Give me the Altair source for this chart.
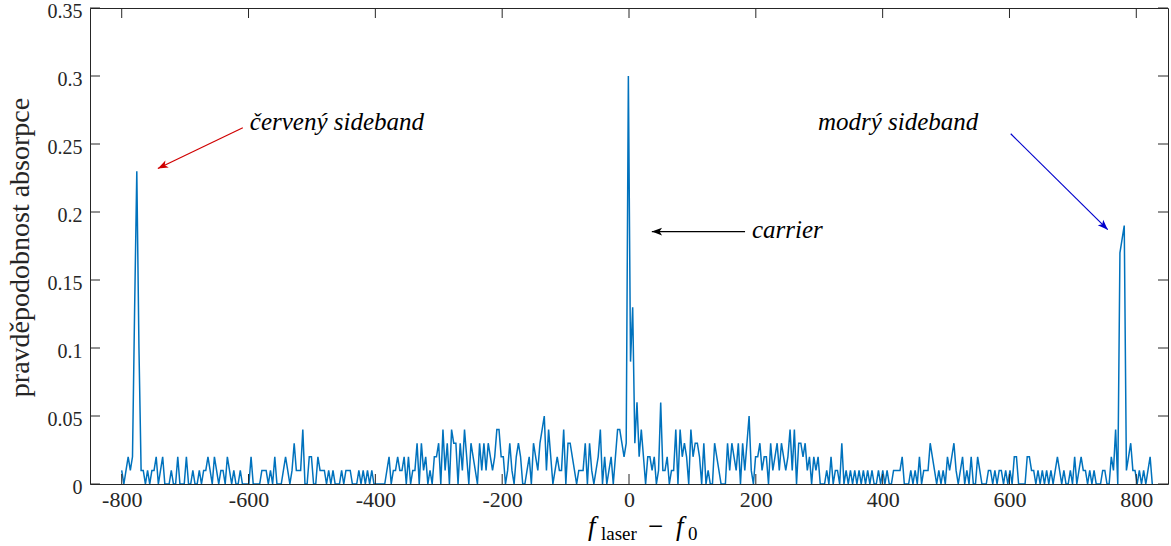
import math
import altair as alt
import pandas as pd

# ---- data: absorption probability (in hundredths), one value per laser detuning step ----
seg_a = [1,0,1,2,1,2,13,23,10,1, 1,0,1,0,1,1,2,0,1,2, 0,0,0,1,0,0,2,0,0,0,
         2,0,0,1,0,0,1,0,1,1, 2,1,0,2,1,0,1,1,0,2, 1,0,1,0,0,1,0,0,0,0,
         2,0,0,0,0,1,1,1,0,1, 0,2,0,0,0,1,2,1]
seg_b = [0,1,3,1,1,1,4,0,0,2, 2,0,0,2,1,1,1,0,1,0, 1,0,0,0,1,0,1,1,1,0,
         0,0,1,0,1,0,1,0,1,0, 0,0,0,0,0,1,2,0,1,1, 2,1,1,2,0,2,0,1,1,3,
         0,3,1,2,0,1,0,2,2,3, 0,4,1,3,0,4,3,3,0,3, 1]
seg_c = [4,2,0,3,2,1,0,3,1,3, 1,3,2,1,2,4,4,2,2,0, 1,3,1,0,2,3,2,0,0,1,
         2,0,3,2,1,3,4,5,1,4, 2,0,1,2,1,1,4,0,3,3, 2,1,0,1,1,1,3,0,3,1,
         0,1,2,4,0,2,0,1,2,0, 2,4,4,3,2,3]
seg_d = [30,9,13,3,6,2,4,2,0,2, 2,1,2,0,1,6,1,1,2,0, 1,1,4,0,4,2,3,2,0,4,
         2,3,3,2,0,3,0,1,0,0, 3,2,1,0,0,0,3,1,3,2, 1,3,0,3,1,3,5,1,0,2,
         2,3,1,2,2,0,3,1,2,3, 1,3,2,1,2,4,1,4,0,3, 3,2,3,1,2,0,2]
seg_e = [1,2,0,0,0,1,0,2,0,1, 1,0,3,0,1,0,1,0,1,0, 1,0,1,0,1,0,1,0,0,1,
         0,1,0,1,0,0,1,1,1,1, 2,0,0,0,1,0,1,0,2,0, 1,1,1,3,2,1,0,1,0,1,
         0,2,1,2,3,1,0,1,2,0, 1,0,2,0,0,2,1,0,0,0, 1]
seg_f = [1,0,1,0,1,1,0,1,0,1, 0,2,2,0,0,0,0,2,2,1, 1,0,1,0,1,0,1,0,1,0,
         1,2,1,0,1,0,0,1,0,2, 0,1,2,1,1,0,1,0,1,0, 0,0,1,1,0,0,2,1,4,0,
         17,18,19,1,2,3,1,1,0,1, 0,1,0,1,2,0]
prob_hundredths = seg_a + seg_b + seg_c + seg_d + seg_e + seg_f

F_START = -800.0   # first detuning
F_STEP = 3.4       # detuning step of the scan
freq = [round(F_START + F_STEP * i, 2) for i in range(len(prob_hundredths))]
prob = [v / 100 for v in prob_hundredths]

x_ticks = [-800, -600, -400, -200, 0, 200, 400, 600, 800]
y_ticks = [0, 0.05, 0.1, 0.15, 0.2, 0.25, 0.3, 0.35]
X_DOMAIN = [-850, 850]
Y_DOMAIN = [0, 0.35]

ann_text = ["červený sideband", "carrier", "modrý sideband"]
ann_x = [-598, 194, 298]
ann_y = [0.266, 0.187, 0.266]

arrow_x = [-609, 183, 602]
arrow_y = [0.262, 0.1856, 0.2575]
arrow_x2 = [-743, 36, 755]
arrow_y2 = [0.232, 0.1856, 0.187]
arrow_color = ["#D00000", "#000000", "#0000CC"]

# ---- layout ----
W, H = 1078, 476
FONT = "Liberation Serif"
INK = "#262626"

px_x = W / (X_DOMAIN[1] - X_DOMAIN[0])
px_y = H / (Y_DOMAIN[1] - Y_DOMAIN[0])
arrow_angle = []
for x1, y1, x2, y2 in zip(arrow_x, arrow_y, arrow_x2, arrow_y2):
    dx = (x2 - x1) * px_x
    dy = -(y2 - y1) * px_y
    arrow_angle.append(round(math.degrees(math.atan2(dx, -dy)) % 360, 1))

df = pd.DataFrame({"f": freq, "p": prob})
xt = pd.DataFrame({"t": x_ticks})
yt = pd.DataFrame({"t": y_ticks})
ann = pd.DataFrame({"text": ann_text, "x": ann_x, "y": ann_y})
arr = pd.DataFrame({"x": arrow_x, "y": arrow_y, "x2": arrow_x2, "y2": arrow_y2,
                    "c": arrow_color, "a": arrow_angle})

xs = alt.Scale(domain=X_DOMAIN, nice=False, zero=False)
ys = alt.Scale(domain=Y_DOMAIN, nice=False, zero=False)

line = alt.Chart(df).mark_line(color="#0072BD", strokeWidth=1.5, clip=True).encode(
    x=alt.X("f:Q", scale=xs, axis=alt.Axis(
        values=x_ticks, title=None, ticks=False, tickSize=0, domain=False, grid=False,
        labelFont=FONT, labelFontSize=22, labelColor=INK, labelPadding=5,
        labelExpr="toString(datum.value)")),
    y=alt.Y("p:Q", scale=ys, axis=alt.Axis(
        values=y_ticks, title="pravděpodobnost absorpce", ticks=False, tickSize=0,
        domain=False, grid=False,
        labelFont=FONT, labelFontSize=20, labelColor=INK, labelPadding=8, labelOffset=3,
        labelExpr="toString(datum.value)",
        titleFont=FONT, titleFontSize=28, titleFontWeight="normal", titleColor=INK,
        titleX=-70, titleY=239, titleAngle=270, titleBaseline="middle", titleAlign="center")),
)

tick_b = alt.Chart(xt).mark_rule(color=INK, strokeWidth=1).encode(
    x=alt.X("t:Q", scale=xs), y=alt.value(H), y2=alt.value(H - 10))
tick_t = alt.Chart(xt).mark_rule(color=INK, strokeWidth=1).encode(
    x=alt.X("t:Q", scale=xs), y=alt.value(0), y2=alt.value(10))
tick_l = alt.Chart(yt).mark_rule(color=INK, strokeWidth=1).encode(
    y=alt.Y("t:Q", scale=ys), x=alt.value(0), x2=alt.value(10))
tick_r = alt.Chart(yt).mark_rule(color=INK, strokeWidth=1).encode(
    y=alt.Y("t:Q", scale=ys), x=alt.value(W), x2=alt.value(W - 10))

labels = alt.Chart(ann).mark_text(
    font=FONT, fontSize=25, fontStyle="italic", align="left", baseline="middle", color="#000000"
).encode(x=alt.X("x:Q", scale=xs), y=alt.Y("y:Q", scale=ys), text="text:N")

shafts = alt.Chart(arr).mark_rule(strokeWidth=1.2).encode(
    x=alt.X("x:Q", scale=xs), y=alt.Y("y:Q", scale=ys),
    x2="x2:Q", y2="y2:Q", color=alt.Color("c:N", scale=None))
heads = alt.Chart(arr).mark_point(
    shape="M0,0L0.38,1L0,0.75L-0.38,1Z", filled=True, size=420, opacity=1
).encode(x=alt.X("x2:Q", scale=xs), y=alt.Y("y2:Q", scale=ys),
         color=alt.Color("c:N", scale=None), angle=alt.Angle("a:Q", scale=None))


def piece(txt, px, py, size, italic):
    return alt.Chart(pd.DataFrame({"s": [txt]})).mark_text(
        font=FONT, fontSize=size, fontStyle="italic" if italic else "normal",
        align="left", baseline="alphabetic", color="#000000"
    ).encode(x=alt.value(px), y=alt.value(py), text="s:N")


# x-axis title  f_laser − f_0
xtitle = (piece("f", 498, 527, 27, True) + piece("laser", 511, 532, 19, False)
          + piece("−", 558, 527, 27, False) + piece("f", 586, 527, 27, True)
          + piece("0", 598, 532, 19, False))

chart = alt.layer(line, tick_b, tick_t, tick_l, tick_r, shafts, heads, labels, xtitle).properties(
    width=W, height=H,
    autosize=alt.AutoSizeParams(type="none"),
    padding={"left": 90, "top": 8, "right": 3, "bottom": 62},
    background="white",
).configure_view(stroke=INK, strokeWidth=1)

chart.save("out.html", embed_options={"renderer": "svg", "actions": False})
